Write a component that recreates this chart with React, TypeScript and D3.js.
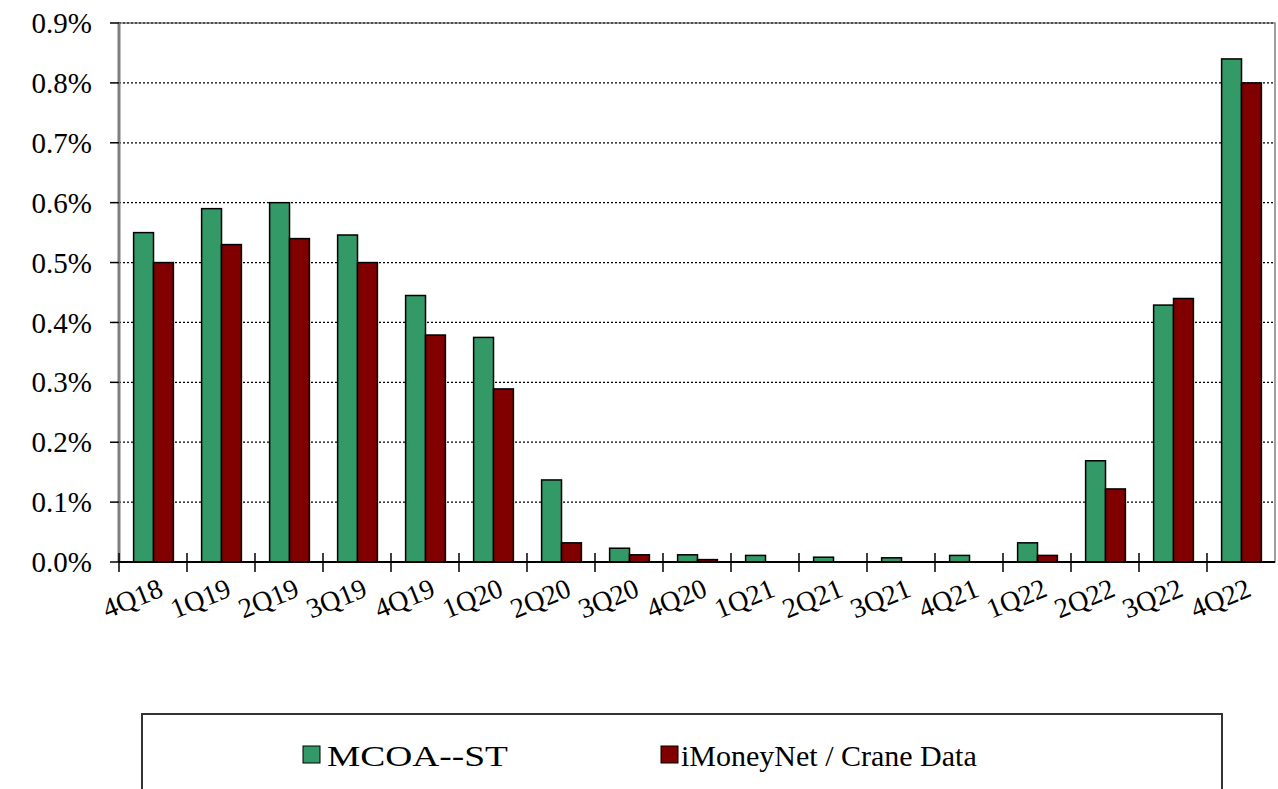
import React from "react";
import * as d3 from "d3";

const W = 1278;
const H = 789;
const MARGIN = { top: 23, right: 3, bottom: 227, left: 119 };

const categories = [
  "4Q18", "1Q19", "2Q19", "3Q19", "4Q19", "1Q20", "2Q20", "3Q20", "4Q20",
  "1Q21", "2Q21", "3Q21", "4Q21", "1Q22", "2Q22", "3Q22", "4Q22",
];
const seriesNames = ["MCOA--ST", "iMoneyNet / Crane Data"];
const mcoaValues = [
  0.55, 0.59, 0.6, 0.546, 0.445, 0.375, 0.137, 0.023, 0.012,
  0.011, 0.008, 0.007, 0.011, 0.032, 0.169, 0.429, 0.84,
];
const craneValues = [
  0.5, 0.53, 0.54, 0.5, 0.379, 0.289, 0.032, 0.012, 0.004,
  0, 0, 0, 0, 0.011, 0.122, 0.44, 0.8,
];
const yTickValues = [0, 0.1, 0.2, 0.3, 0.4, 0.5, 0.6, 0.7, 0.8, 0.9];
const yTickLabels = ["0.0%", "0.1%", "0.2%", "0.3%", "0.4%", "0.5%", "0.6%", "0.7%", "0.8%", "0.9%"];
const colors = ["#339966", "#800000"];

const FONT = '"Liberation Serif", "Times New Roman", "DejaVu Serif", "Noto Serif", serif';

export default function App() {
  const plotBottom = H - MARGIN.bottom;
  const plotRight = W - MARGIN.right;

  const x0 = d3
    .scaleBand<string>()
    .domain(categories)
    .range([MARGIN.left, plotRight])
    .padding(0);
  const bw = x0.bandwidth();
  const x1 = d3
    .scaleBand<string>()
    .domain(seriesNames)
    .range([bw * 0.215, bw * 0.8])
    .padding(0);
  const y = d3.scaleLinear().domain([0, 0.9]).range([plotBottom, MARGIN.top]);

  const series = [mcoaValues, craneValues];

  return (
    <svg
      width={W}
      height={H}
      style={{ position: "absolute", left: 0, top: 0, background: "#fff", fontFamily: FONT }}
    >
      {/* plot border */}
      <rect
        x={MARGIN.left}
        y={MARGIN.top}
        width={plotRight - MARGIN.left}
        height={plotBottom - MARGIN.top}
        fill="none"
        stroke="#7f7f7f"
        strokeWidth={1.5}
      />
      {/* grid lines */}
      {yTickValues.slice(1).map((t) => (
        <line
          key={t}
          x1={MARGIN.left}
          x2={plotRight}
          y1={y(t)}
          y2={y(t)}
          stroke="#000"
          strokeWidth={1.2}
          strokeDasharray="2,2"
        />
      ))}
      {/* bars */}
      {categories.map((c, i) => (
        <g key={c} transform={`translate(${x0(c)},0)`}>
          {series.map((vals, s) => {
            const v = vals[i];
            if (v <= 0) return null;
            return (
              <rect
                key={s}
                x={x1(seriesNames[s])}
                y={y(v)}
                width={x1.bandwidth()}
                height={plotBottom - y(v)}
                fill={colors[s]}
                stroke="#000"
                strokeWidth={1.5}
              />
            );
          })}
        </g>
      ))}
      {/* y axis */}
      <line x1={MARGIN.left} x2={MARGIN.left} y1={MARGIN.top} y2={plotBottom} stroke="#7f7f7f" strokeWidth={3} />
      {yTickValues.map((t, i) => (
        <g key={t} transform={`translate(0,${y(t)})`}>
          <line x1={MARGIN.left - 9} x2={MARGIN.left} stroke="#000" strokeWidth={1.5} />
          <text
            x={MARGIN.left - 27}
            dy="0.35em"
            textAnchor="end"
            fontSize={29}
            fill="#000"
          >
            {yTickLabels[i]}
          </text>
        </g>
      ))}
      {/* x axis */}
      <line x1={MARGIN.left} x2={plotRight} y1={plotBottom} y2={plotBottom} stroke="#000" strokeWidth={2} />
      {categories.map((c) => (
        <line
          key={"t" + c}
          x1={x0(c)}
          x2={x0(c)}
          y1={plotBottom - 9}
          y2={plotBottom + 10}
          stroke="#000"
          strokeWidth={1.5}
        />
      ))}
      {categories.map((c) => {
        const cx = (x0(c) as number) + bw / 2 + 4;
        const cy = plotBottom + 14;
        return (
          <text
            key={"l" + c}
            transform={`translate(${cx},${cy}) rotate(-22)`}
            textAnchor="end"
            dy="0.75em"
            fontSize={28}
            fill="#000"
          >
            {c}
          </text>
        );
      })}
      {/* legend */}
      <rect x={142} y={714} width={1080} height={90} fill="#fff" stroke="#333" strokeWidth={2} />
      {seriesNames.map((name, s) => {
        const lx = s === 0 ? 303 : 661;
        return (
          <g key={name} transform={`translate(${lx},755)`}>
            <rect x={0} y={-9} width={17} height={17} fill={colors[s]} stroke="#000" strokeWidth={1} />
            <text
              x={s === 0 ? 24 : 20}
              dy="0.35em"
              fontSize={30}
              fill="#000"
              textLength={s === 0 ? 181 : undefined}
              lengthAdjust={s === 0 ? "spacingAndGlyphs" : undefined}
            >
              {name}
            </text>
          </g>
        );
      })}
    </svg>
  );
}
